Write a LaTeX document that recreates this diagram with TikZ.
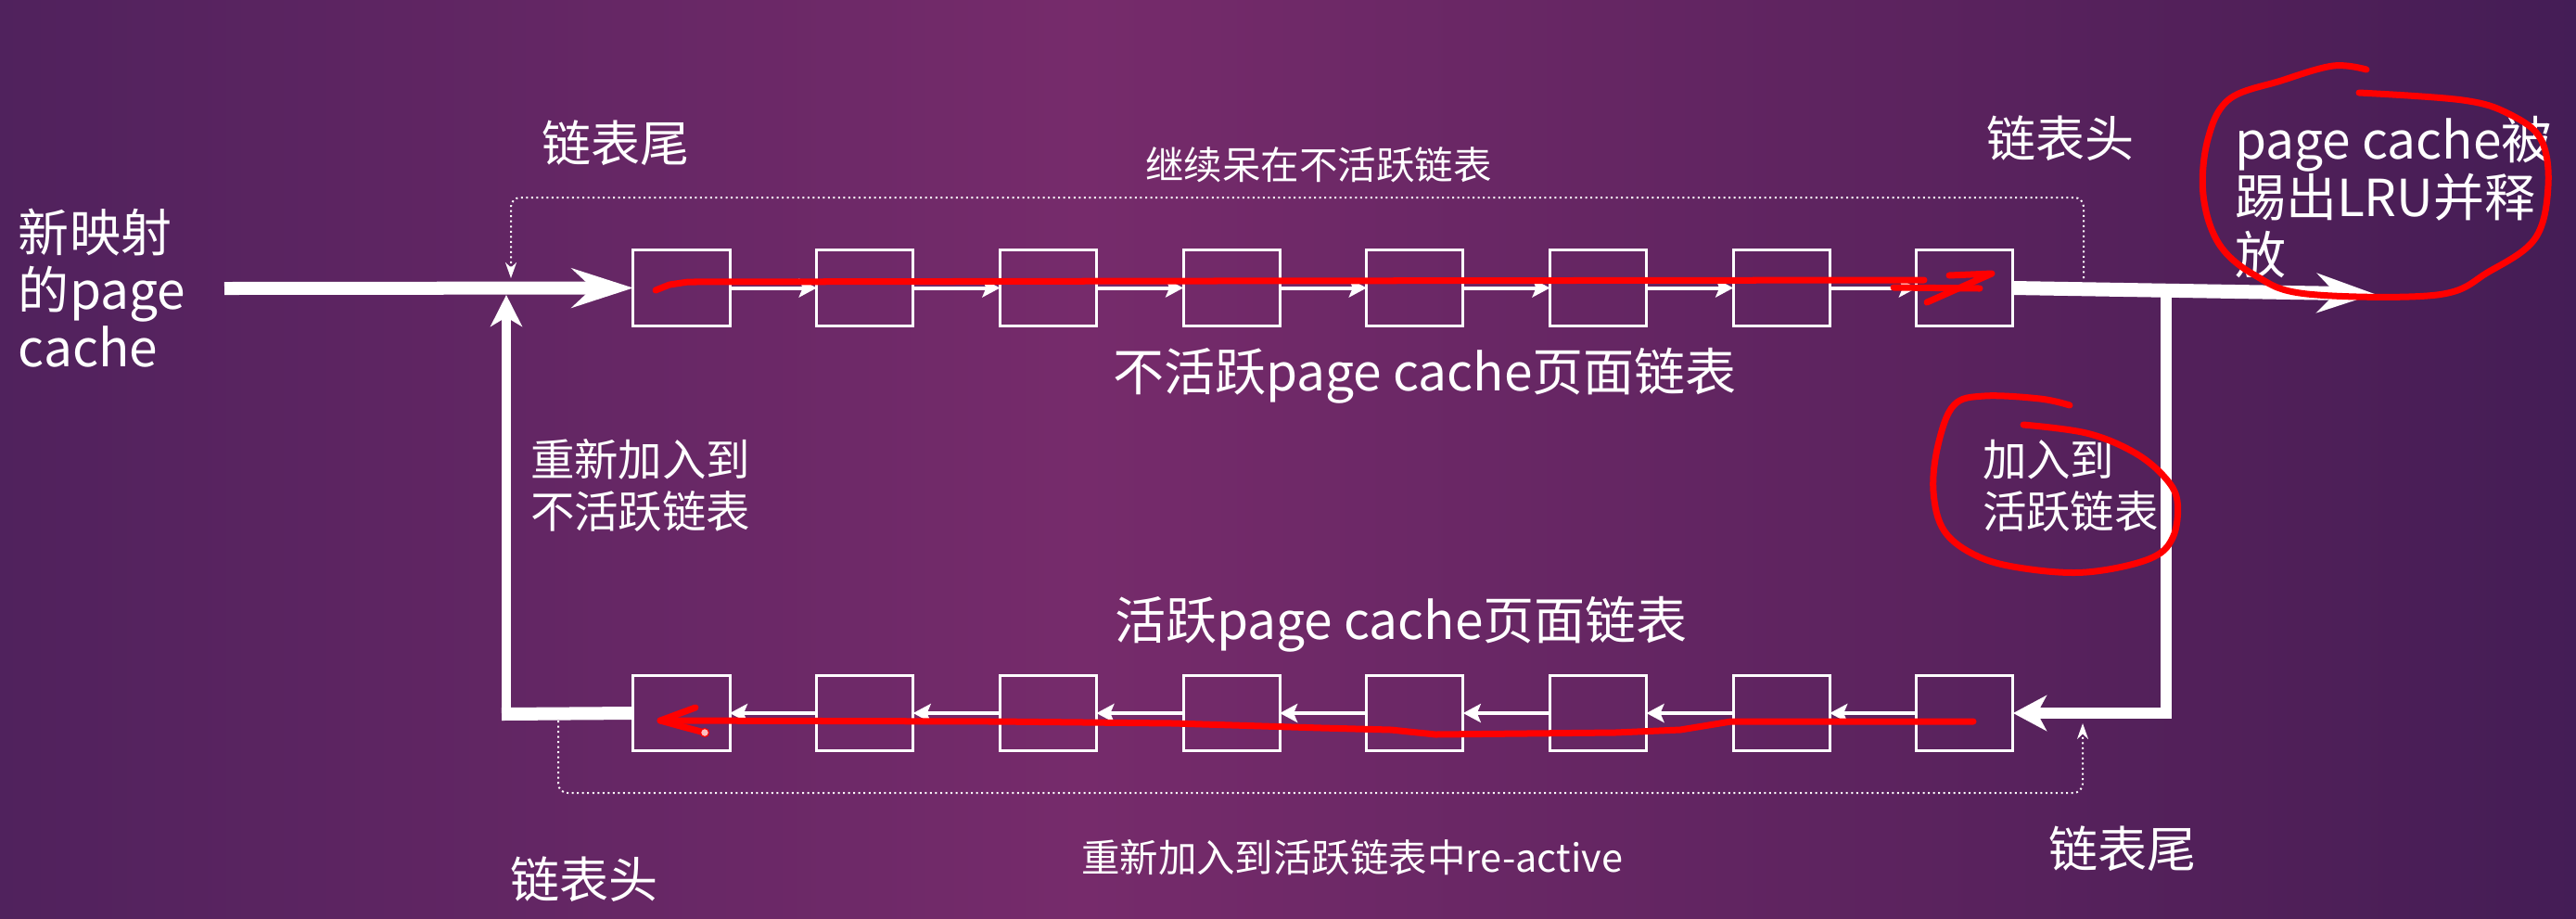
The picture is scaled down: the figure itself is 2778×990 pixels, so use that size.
\documentclass[tikz,border=0pt]{standalone}
\usepackage{fontspec}
\setmainfont{Noto Sans CJK SC}
\usetikzlibrary{arrows.meta}
\definecolor{bgA}{HTML}{2A194A}
\definecolor{bgB}{HTML}{3E1D56}
\definecolor{bgC}{HTML}{762B6B}
\definecolor{bgD}{HTML}{4E1F58}
\definecolor{bgE}{HTML}{2E1850}
\definecolor{bgF}{HTML}{21134A}
\pgfdeclarehorizontalshading{bgshade}{100bp}{color(0bp)=(bgA); color(15bp)=(bgB); color(46bp)=(bgC); color(70bp)=(bgD); color(86bp)=(bgE); color(100bp)=(bgF)}
\newcommand\szBig{\fontsize{15.65pt}{17.64pt}\selectfont}
\newcommand\szHead{\fontsize{15.1pt}{17pt}\selectfont}
\newcommand\szMid{\fontsize{13.5pt}{16.2pt}\selectfont}
\newcommand\szSmall{\fontsize{11.8pt}{14pt}\selectfont}
\tikzset{
  lbl/.style={text=white, inner sep=0pt, outer sep=0pt},
  pbox/.style={draw=white, line width=0.03cm, minimum width=1.04cm, minimum height=0.81cm, inner sep=0pt, outer sep=0pt},
  thinarrow/.style={draw=white, line width=0.04cm, -{Stealth[length=0.19cm, width=0.2cm, inset=0.04cm]}},
  bigline/.style={draw=white, line width=0.14cm},
  bighead/.style={-{Stealth[length=0.66cm, width=0.42cm, inset=0.22cm]}},
  exithead/.style={-{Stealth[length=0.62cm, width=0.42cm, inset=0.2cm]}},
  midhead/.style={-{Stealth[length=0.36cm, width=0.38cm, inset=0.1cm]}},
  uphead/.style={-{Stealth[length=0.34cm, width=0.34cm, inset=0.1cm]}},
  dotline/.style={draw=white, line width=0.02cm, densely dotted, rounded corners=0.1cm, -{Stealth[length=0.17cm, width=0.12cm]}},
  ink/.style={draw=red, line width=0.07cm, line cap=round, line join=round},
}
\begin{document}
\begin{tikzpicture}[x=0.01cm, y=-0.01cm]
\useasboundingbox (0,0) rectangle (2778,990);
\fill[shading=bgshade] (0,0) rectangle (2778,990);

% boxes
\foreach \i in {1,...,8} {
  \node[pbox] (t\i) at ({735+197.7*(\i-1)},310.5) {};
  \node[pbox] (b\i) at ({735+197.7*(\i-1)},769) {};
}

% coordinates
\coordinate (inS) at (242,311);
\coordinate (outE) at (2561,317);
\coordinate (rTop) at (2336,312);
\coordinate (lCorner) at (541,770);
\coordinate (lBot) at (546,777);
\coordinate (lTip) at (546,318);
\coordinate (dTs) at (2247,300);
\coordinate (dTa) at (2247,213);
\coordinate (dTb) at (551,213);
\coordinate (dTe) at (551,300);
\coordinate (dBs) at (602,777);
\coordinate (dBa) at (602,855);
\coordinate (dBb) at (2246,855);
\coordinate (dBe) at (2246,780);

% main white connectors
\draw[bigline, bighead] (inS) -- (t1.west);
\foreach \i/\j in {1/2,2/3,3/4,4/5,5/6,6/7,7/8} {
  \draw[thinarrow] (t\i.east) -- (t\j.west);
  \draw[thinarrow] (b\j.west) -- (b\i.east);
}
\draw[draw=white, line width=0.15cm, exithead] (t8.east) -- (outE);
\draw[draw=white, line width=0.12cm, midhead] (rTop) |- (b8.east);
\draw[bigline] (b1.west) -- (lCorner);
\draw[draw=white, line width=0.1cm, uphead] (lBot) -- (lTip);

% dotted connectors
\draw[dotline] (dTs) -- (dTa) -- (dTb) -- (dTe);
\draw[dotline] (dBs) -- (dBa) -- (dBb) -- (dBe);

% labels
\node[lbl, anchor=base west] (newpc) at (20,271) {\szBig\vtop{\hbox{新映射}\hbox{的page}\hbox{cache}}};
\node[lbl, anchor=base] (tailT) at (664,174) {\szHead 链表尾};
\node[lbl, anchor=base] (headT) at (2222,169) {\szHead 链表头};
\node[lbl, anchor=base] (stay) at (1422,193) {\szSmall 继续呆在不活跃链表};
\node[lbl, anchor=base west] (evict) at (2410,171) {\szBig\vtop{\hbox{page cache被}\hbox{踢出LRU并释}\hbox{放}}};
\node[lbl, anchor=base west] (inact) at (1200,421) {\szBig 不活跃page cache页面链表};
\node[lbl, anchor=base west] (readd) at (572,513) {\szMid\vtop{\hbox{重新加入到}\hbox{不活跃链表}}};
\node[lbl, anchor=base west] (toact) at (2138,513) {\szMid\vtop{\hbox{加入到}\hbox{活跃链表}}};
\node[lbl, anchor=base west] (act) at (1202,689) {\szBig 活跃page cache页面链表};
\node[lbl, anchor=base west] (react) at (1166,940) {\szSmall 重新加入到活跃链表中re-active};
\node[lbl, anchor=base] (headB) at (630,968) {\szHead 链表头};
\node[lbl, anchor=base] (tailB) at (2289,935) {\szHead 链表尾};

% red hand-drawn annotations
\draw[ink] (707,313) -- (722,307) -- (742,304) -- (1300,303) -- (2075,302);
\draw[ink] (2042,310) -- (2135,311);
\draw[ink] (2102,297) -- (2148,295) -- (2078,326);
\draw[ink] plot[smooth, tension=0.6] coordinates {(2552,75) (2516,71) (2460,87) (2404,107) (2381,150) (2376,210) (2393,263) (2432,297) (2488,317) (2628,318) (2684,293) (2734,257) (2748,200) (2740,150) (2706,123) (2656,108) (2544,100)};
\draw[ink] plot[smooth, tension=0.6] coordinates {(2232,437) (2200,430) (2140,427) (2107,437) (2090,480) (2085,530) (2097,573) (2133,600) (2183,613) (2250,617) (2317,603) (2343,580) (2348,540) (2333,513) (2300,487) (2250,467) (2182,458)};
\draw[ink] (2128,778) -- (1867,778) -- (1812,787) -- (1742,790) -- (1548,792) -- (1500,787) -- (1425,785) -- (1329,782) -- (1265,780) -- (1074,778) -- (712,777);
\draw[ink] (750,763) -- (712,777) -- (730,782) -- (760,790);
\draw[draw=red, line width=0.012cm, fill=white!75!red] (760,790) circle[radius=0.045cm];
\end{tikzpicture}
\end{document}
